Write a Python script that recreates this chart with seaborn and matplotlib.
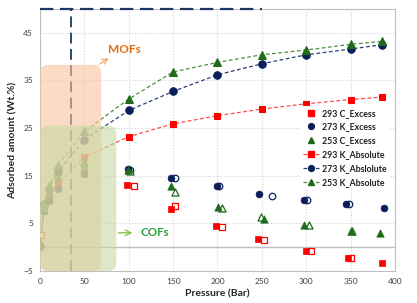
import matplotlib
matplotlib.use("Agg")
import matplotlib.pyplot as plt
import seaborn as sns
import numpy as np
from matplotlib.patches import FancyBboxPatch
from matplotlib.lines import Line2D

# ---------------- data ----------------
P_abs = [0, 5, 10, 20, 50, 100, 150, 200, 250, 300, 350, 385]
abs_293 = [0.5, 8.1, 10.9, 13.3, 18.9, 23.2, 25.9, 27.6, 29.0, 30.1, 31.0, 31.5]
abs_273 = [0.3, 9.0, 12.3, 15.8, 22.6, 28.7, 32.7, 36.2, 38.5, 40.4, 41.6, 42.5]
abs_253 = [0.8, 9.3, 12.8, 17.2, 24.3, 31.1, 36.8, 38.8, 40.4, 41.4, 42.6, 43.2]

P_exc_293 = [0, 5, 10, 20, 50, 98, 148, 198, 246, 300, 347, 386]
exc_293 = [0.2, 7.6, 10.2, 12.4, 15.3, 13.0, 8.0, 4.4, 1.6, -0.75, -2.3, -3.4]
P_exc_273 = [0, 5, 10, 20, 50, 99, 148, 200, 247, 298, 345, 388]
exc_273 = [0.1, 7.6, 9.7, 12.1, 15.6, 16.3, 14.6, 12.8, 11.1, 9.9, 9.0, 8.2]
P_exc_253 = [0, 5, 10, 20, 50, 99, 148, 201, 253, 298, 350, 383]
exc_253 = [0.3, 8.5, 11.3, 14.8, 17.5, 16.2, 12.8, 8.5, 6.0, 4.6, 3.4, 2.9]

P_hol_293 = [1, 50, 106, 152, 205, 252, 305, 351]
hol_293 = [2.5, 15.8, 12.8, 8.6, 4.3, 1.5, -0.8, -2.3]
P_hol_273 = [101, 152, 202, 262, 301, 348]
hol_273 = [16.2, 14.6, 12.8, 10.8, 9.9, 9.0]
P_hol_253 = [50, 101, 152, 205, 249, 303, 352]
hol_253 = [17.9, 16.0, 11.5, 8.2, 6.4, 4.6, 3.4]

x_ticks = [0, 50, 100, 150, 200, 250, 300, 350, 400]
y_ticks = [-5, 5, 15, 25, 35, 45]

labels = ["293 C_Excess", "273 K_Excess", "253 C_Excess",
          "293 K_Absolute", "273 K_Abslolute", "253 K_Absolute"]

# ---------------- style ----------------
sns.set_style("white")
plt.rcParams['font.family'] = ['Lato', 'DejaVu Sans']

RED = "#FF0000"
NAVY = "#0A1E5A"
GREEN = "#1F6B1A"
RED_L = "#FF4A4A"
NAVY_L = "#2B3F78"
GREEN_L = "#4F8F3A"

fig = plt.figure(figsize=(4.17, 3.03), dpi=100)
ax = fig.add_axes([0.096, 0.106, 0.851, 0.864])

ax.set_xlim(0, 400)
ax.set_ylim(-5, 50)

# grid
for xv in x_ticks[1:-1]:
    ax.axvline(xv, color="#D4D4D4", lw=0.8, ls=(0, (1, 1.5)), zorder=0)
for yv in y_ticks[1:]:
    ax.axhline(yv, color="#D4D4D4", lw=0.8, ls=(0, (1, 1.5)), zorder=0)
ax.axhline(0, color="#BFBFBF", lw=1.0, zorder=0.5)

# absolute (lines with markers)
sns.lineplot(x=P_abs, y=abs_293, ax=ax, color=RED_L, lw=0.9, linestyle=(0, (3, 2)),
             marker="s", markersize=5.0, markerfacecolor=RED, markeredgecolor=RED,
             sort=False, zorder=3, legend=False)
sns.lineplot(x=P_abs, y=abs_273, ax=ax, color=NAVY_L, lw=0.9, linestyle=(0, (3, 2)),
             marker="o", markersize=5.4, markerfacecolor=NAVY, markeredgecolor=NAVY,
             sort=False, zorder=3, legend=False)
sns.lineplot(x=P_abs, y=abs_253, ax=ax, color=GREEN_L, lw=0.9, linestyle=(0, (3, 2)),
             marker="^", markersize=6.0, markerfacecolor=GREEN, markeredgecolor=GREEN,
             sort=False, zorder=3, legend=False)

# hollow markers
sns.scatterplot(x=P_hol_293, y=hol_293, ax=ax, marker="s", s=20, color="white",
                edgecolor=RED, linewidth=0.9, zorder=3, legend=False)
sns.scatterplot(x=P_hol_273, y=hol_273, ax=ax, marker="o", s=22, color="white",
                edgecolor=NAVY, linewidth=0.9, zorder=3, legend=False)
sns.scatterplot(x=P_hol_253, y=hol_253, ax=ax, marker="^", s=26, color="white",
                edgecolor=GREEN, linewidth=0.9, zorder=3, legend=False)

# excess (filled markers)
sns.scatterplot(x=P_exc_293, y=exc_293, ax=ax, marker="s", s=20, color=RED,
                edgecolor=RED, linewidth=0.5, zorder=4, legend=False)
sns.scatterplot(x=P_exc_273, y=exc_273, ax=ax, marker="o", s=24, color=NAVY,
                edgecolor=NAVY, linewidth=0.5, zorder=4, legend=False)
sns.scatterplot(x=P_exc_253, y=exc_253, ax=ax, marker="^", s=28, color=GREEN,
                edgecolor=GREEN, linewidth=0.5, zorder=4, legend=False)

# dashed guide lines
ax.plot([0, 250], [50, 50], color="#1F3864", lw=1.6, ls=(0, (6, 3)), zorder=6, clip_on=False)
ax.plot([35, 35], [-5, 50], color="#1F3864", lw=1.3, ls=(0, (6, 3)), zorder=2.5)

# shaded regions (on top, semi-transparent)
asp = (1 / 4.78) / (1 / 0.885)
mof = FancyBboxPatch((0, -5), 69, 43.3, boxstyle="round,pad=0,rounding_size=9",
                     mutation_aspect=asp, facecolor="#F9C4A0", edgecolor="none",
                     alpha=0.6, zorder=5)
cof = FancyBboxPatch((0, -5), 86, 30.5, boxstyle="round,pad=0,rounding_size=9",
                     mutation_aspect=asp, facecolor="#C8D9A4", edgecolor="none",
                     alpha=0.6, zorder=5.1)
ax.add_patch(mof)
ax.add_patch(cof)

# annotations
ax.text(95.5, 41.6, "MOFs", color="#E36C0A", fontsize=8.5, fontweight="bold",
        ha="center", va="center", zorder=7)
ax.annotate("", xy=(80, 40.0), xytext=(64, 38.1),
            arrowprops=dict(arrowstyle="->", color="#F4A460", lw=0.8), zorder=7)
ax.text(129.5, 3.0, "COFs", color="#2E9E3A", fontsize=8.3, fontweight="bold",
        ha="center", va="center", zorder=7)
ax.annotate("", xy=(107, 3.0), xytext=(85, 3.0),
            arrowprops=dict(arrowstyle="->", color="#7DC243", lw=0.9), zorder=7)

# axes styling
ax.set_xticks(x_ticks)
ax.set_yticks(y_ticks)
ax.tick_params(axis="both", length=0, labelsize=6, colors="#404040", pad=5)
for sp in ax.spines.values():
    sp.set_color("#BFBFBF")
    sp.set_linewidth(0.8)
ax.set_xlabel("Pressure (Bar)", fontsize=7.5, fontweight="bold", labelpad=3)
ax.set_ylabel("Adsorbed amount (Wt.%)", fontsize=7.5, fontweight="bold", labelpad=4)

# legend
handles = [
    Line2D([], [], ls="none", marker="s", ms=4.2, mfc=RED, mec=RED),
    Line2D([], [], ls="none", marker="o", ms=4.2, mfc=NAVY, mec=NAVY),
    Line2D([], [], ls="none", marker="^", ms=4.4, mfc=GREEN, mec=GREEN),
    Line2D([], [], color=RED_L, lw=0.9, ls=(0, (3, 2)), marker="s", ms=4.2, mfc=RED, mec=RED),
    Line2D([], [], color=NAVY_L, lw=0.9, ls=(0, (3, 2)), marker="o", ms=4.2, mfc=NAVY, mec=NAVY),
    Line2D([], [], color=GREEN_L, lw=0.9, ls=(0, (3, 2)), marker="^", ms=4.4, mfc=GREEN, mec=GREEN),
]
leg = ax.legend(handles, labels, loc="upper left", bbox_to_anchor=(0.735, 0.63),
                fontsize=6.3, frameon=True, facecolor="white", edgecolor="none",
                framealpha=1, handlelength=1.8, handletextpad=0.3, labelspacing=0.55,
                borderpad=0.3, borderaxespad=0)
for t in leg.get_texts():
    t.set_fontweight("bold")
    t.set_color("#202020")
leg.set_zorder(8)

fig.savefig("out.png", dpi=100)
